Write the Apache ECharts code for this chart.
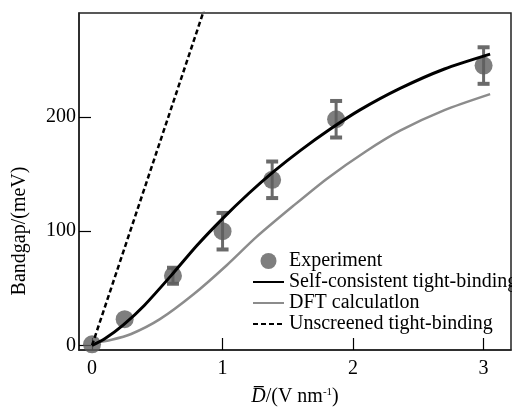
<!DOCTYPE html>
<html>
<head>
<meta charset="utf-8">
<title>Bandgap vs D</title>
<script src="https://cdn.jsdelivr.net/npm/echarts@6/dist/echarts.min.js"></script>
<style>
    html, body { margin: 0; padding: 0; background: #fff; }
    #chart1 { width: 512px; height: 412px; }
</style>
</head>
<body>
<div id="chart1"></div>
<script>
// 实验点 (带误差棒)
var expX = [0, 0.25, 0.62, 1.0, 1.38, 1.87, 3.0];
var expY = [1, 23, 61, 100, 145, 198, 245];
var expErr = [0, 0, 7, 16, 16, 16, 16];

// 自洽紧束缚
var scX = [0, 0.1, 0.24, 0.4, 0.62, 0.8, 1.0, 1.2, 1.4, 1.6, 1.82, 2.05, 2.36, 2.7, 3.05];
var scY = [0, 6, 18, 35, 63, 87, 111, 133, 153, 171, 189, 206, 225, 242, 255];

// DFT
var dftX = [0, 0.15, 0.3, 0.52, 0.78, 1.03, 1.26, 1.54, 1.8, 2.1, 2.36, 2.7, 3.05];
var dftY = [2, 5, 10, 23, 45, 70, 95, 122, 146, 170, 188, 206, 220];

// 未屏蔽紧束缚 (直线)
var unX = [0, 0.9];
var unY = [0, 308];

var xTicks = [0, 1, 2, 3];
var yTicks = [0, 100, 200];

var names = ['Experiment', 'Self-consistent tight-binding', 'DFT calculatlon', 'Unscreened tight-binding'];

var serif = '"Liberation Serif", "Times New Roman", serif';

function pairs(xs, ys) {
    var out = [];
    for (var i = 0; i < xs.length; i++) {
        out.push([xs[i], ys[i]]);
    }
    return out;
}

var errData = [];
for (var i = 0; i < expX.length; i++) {
    if (expErr[i] > 0) {
        errData.push([expX[i], expY[i] - expErr[i], expY[i] + expErr[i]]);
    }
}

function renderErr(params, api) {
    var x = api.value(0);
    var lo = api.coord([x, api.value(1)]);
    var hi = api.coord([x, api.value(2)]);
    var hw = 6;
    var st = { stroke: '#6a6a6a', lineWidth: 3 };
    return {
        type: 'group',
        children: [
            { type: 'line', shape: { x1: lo[0], y1: lo[1], x2: hi[0], y2: hi[1] }, style: st },
            { type: 'line', shape: { x1: lo[0] - hw, y1: lo[1], x2: lo[0] + hw, y2: lo[1] }, style: { stroke: '#6a6a6a', lineWidth: 4 } },
            { type: 'line', shape: { x1: hi[0] - hw, y1: hi[1], x2: hi[0] + hw, y2: hi[1] }, style: { stroke: '#6a6a6a', lineWidth: 4 } }
        ]
    };
}

// 线条图例不画圆点
var noDot = { color: 'rgba(0,0,0,0)', borderWidth: 0 };

var myChart1 = echarts.init(document.getElementById('chart1'));

var option1 = {
    animation: false,
    backgroundColor: '#fff',
    textStyle: { fontFamily: serif, color: '#000' },
    grid: {
        left: 79, top: 13, right: 1, bottom: 61,
        show: true,
        borderColor: '#222',
        borderWidth: 1.5
    },
    legend: {
        left: 247,
        top: 246,
        orient: 'vertical',
        itemWidth: 31,
        itemHeight: 16,
        itemGap: 1,
        textStyle: { fontFamily: serif, fontSize: 20, color: '#000' },
        data: [
            { name: names[0] },
            { name: names[1], itemStyle: noDot },
            { name: names[2], itemStyle: noDot },
            { name: names[3], itemStyle: noDot }
        ]
    },
    xAxis: {
        type: 'value',
        min: -0.1,
        max: 3.21,
        name: '{d|D\u0305}/(V nm{s|-1})',
        nameLocation: 'middle',
        nameGap: 37,
        nameTextStyle: {
            fontFamily: serif, fontSize: 20, color: '#000',
            rich: {
                d: { fontFamily: serif, fontSize: 20, fontStyle: 'italic', color: '#000' },
                s: { fontFamily: serif, fontSize: 11, color: '#000', verticalAlign: 'top' }
            }
        },
        axisLine: { show: true, onZero: false, lineStyle: { color: '#222', width: 1.5 } },
        axisTick: { show: true, inside: true, length: 12, customValues: xTicks, lineStyle: { color: '#000', width: 1.2 } },
        axisLabel: { customValues: xTicks, margin: 9, fontFamily: serif, fontSize: 20, color: '#000' },
        splitLine: { show: false }
    },
    yAxis: {
        type: 'value',
        min: -4,
        max: 291,
        axisLine: { show: true, onZero: false, lineStyle: { color: '#222', width: 1.5 } },
        axisTick: { show: true, inside: true, length: 12, customValues: yTicks, lineStyle: { color: '#000', width: 1.2 } },
        axisLabel: { customValues: yTicks, margin: 3, fontFamily: serif, fontSize: 20, color: '#000' },
        splitLine: { show: false }
    },
    graphic: [
        {
            type: 'text',
            x: 20,
            y: 231,
            rotation: Math.PI / 2,
            style: {
                text: 'Bandgap/(meV)',
                font: '20px ' + serif,
                fill: '#000',
                textAlign: 'center',
                textVerticalAlign: 'middle'
            }
        }
    ],
    series: [
        {
            name: names[0],
            type: 'scatter',
            symbol: 'circle',
            symbolSize: 18,
            itemStyle: { color: '#5e5e5e' },
            z: 2,
            data: pairs(expX, expY)
        },
        {
            name: 'err',
            type: 'custom',
            renderItem: renderErr,
            z: 2,
            data: errData
        },
        {
            name: names[1],
            type: 'line',
            smooth: 0.25,
            symbol: 'none',
            lineStyle: { color: '#000', width: 3 },
            itemStyle: { color: '#000' },
            z: 4,
            data: pairs(scX, scY)
        },
        {
            name: names[2],
            type: 'line',
            smooth: 0.25,
            symbol: 'none',
            lineStyle: { color: '#8c8c8c', width: 2.5 },
            itemStyle: { color: '#8c8c8c' },
            z: 3,
            data: pairs(dftX, dftY)
        },
        {
            name: names[3],
            type: 'line',
            symbol: 'none',
            clip: true,
            lineStyle: { color: '#000', width: 2.5, type: [5, 3] },
            itemStyle: { color: '#000' },
            z: 3,
            data: pairs(unX, unY)
        }
    ]
};

// 使用刚指定的配置项和数据显示图表。
myChart1.setOption(option1);
</script>
</body>
</html>
